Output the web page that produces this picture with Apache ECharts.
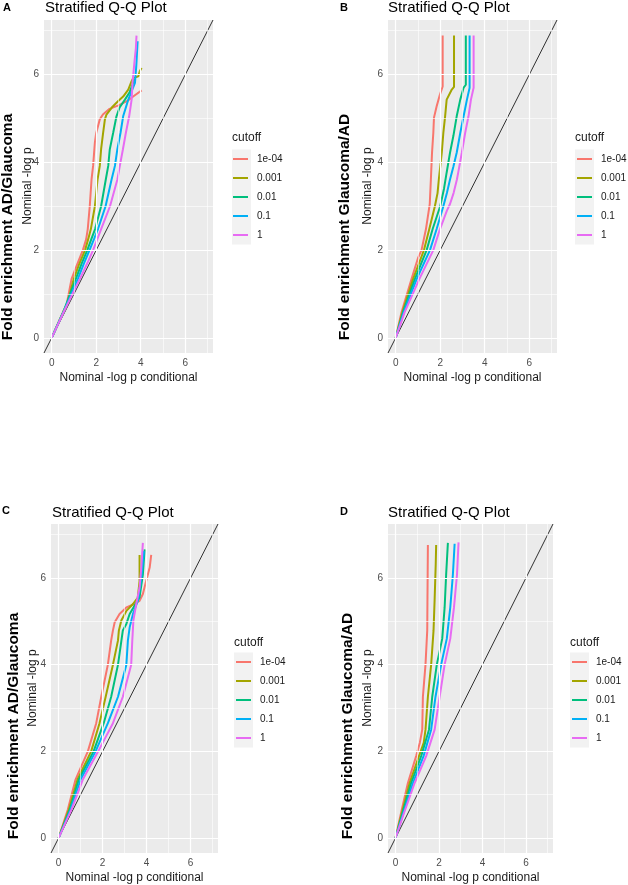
<!DOCTYPE html>
<html>
<head>
<meta charset="utf-8">
<script src="https://cdn.jsdelivr.net/npm/echarts@6/dist/echarts.min.js"></script>
<style>html,body{margin:0;padding:0;background:#fff}#c{width:628px;height:885px}</style>
</head>
<body>
<div id="c"></div>
<script>
// ---------- data ----------
const cutoffs = ['1e-04', '0.001', '0.01', '0.1', '1'];
const majorTicks = [0, 2, 4, 6];
const minorTicks = [1, 3, 5, 7];
const axisMin = -0.345, axisMax = 7.245;
const panelLetters = ['A', 'B', 'C', 'D'];
const plotTitles = ['Stratified Q-Q Plot', 'Stratified Q-Q Plot', 'Stratified Q-Q Plot', 'Stratified Q-Q Plot'];
const foldTitles = ['Fold enrichment AD/Glaucoma', 'Fold enrichment Glaucoma/AD', 'Fold enrichment AD/Glaucoma', 'Fold enrichment Glaucoma/AD'];
const yName = 'Nominal -log p';
const xName = 'Nominal -log p conditional';
const legendTitle = 'cutoff';

// each panel: one [x, y] list per cutoff (1e-04, 0.001, 0.01, 0.1, 1)
const panelA = [
  [[0,0],[0.5,0.55],[0.66,0.73],[0.89,1.34],[1.15,1.68],[1.40,2.0],[1.55,2.25],[1.62,2.48],[1.71,3.0],[1.79,3.61],[1.86,3.92],[1.94,4.45],[2.0,4.67],[2.16,4.98],[2.3,5.09],[2.6,5.22],[3.0,5.3],[3.4,5.4],[3.66,5.5],[4.04,5.64]],
  [[0,0],[0.52,0.6],[0.7,0.78],[0.99,1.34],[1.25,1.7],[1.50,2.0],[1.64,2.25],[1.76,2.48],[1.94,3.0],[2.06,3.61],[2.16,3.92],[2.22,4.3],[2.31,4.67],[2.39,4.98],[2.46,5.09],[2.7,5.25],[2.99,5.4],[3.21,5.5],[3.44,5.66],[3.59,5.85],[3.66,5.92],[3.89,5.96],[3.96,6.08],[4.04,6.15]],
  [[0,0],[0.53,0.6],[1.08,1.34],[1.35,1.7],[1.60,2.0],[1.78,2.25],[1.95,2.48],[2.22,3.0],[2.43,3.61],[2.54,3.92],[2.61,4.3],[2.76,4.67],[2.91,5.05],[3.05,5.25],[3.29,5.43],[3.5,5.6],[3.66,5.81],[3.72,5.9]],
  [[0,0],[0.54,0.6],[1.17,1.34],[1.45,1.7],[1.70,2.0],[1.90,2.25],[2.08,2.48],[2.42,3.0],[2.69,3.61],[2.84,3.92],[2.95,4.3],[3.09,4.67],[3.21,5.05],[3.44,5.43],[3.74,5.81],[3.8,6.2],[3.86,6.76]],
  [[0,0],[0.55,0.6],[1.26,1.34],[1.6,1.7],[1.86,2.0],[2.05,2.25],[2.22,2.48],[2.62,3.0],[2.95,3.61],[3.06,3.92],[3.2,4.3],[3.33,4.67],[3.48,5.05],[3.59,5.43],[3.63,5.81],[3.72,6.3],[3.78,6.6],[3.81,6.89]]
];
const panelB = [
  [[0,0],[0.26,0.58],[0.71,1.34],[1.01,1.83],[1.16,2.0],[1.36,2.48],[1.53,3.05],[1.58,3.6],[1.63,4.2],[1.69,4.67],[1.72,5.02],[1.84,5.28],[1.99,5.55],[2.11,5.73],[2.11,6.89]],
  [[0,0],[0.3,0.58],[0.78,1.34],[1.27,2.0],[1.51,2.48],[1.76,3.0],[1.88,3.3],[1.94,3.62],[2.07,4.22],[2.14,4.67],[2.22,5.05],[2.29,5.43],[2.52,5.66],[2.62,5.72],[2.62,6.89]],
  [[0,0],[0.33,0.58],[0.86,1.34],[1.39,2.0],[1.66,2.48],[2.0,3.0],[2.17,3.4],[2.29,3.77],[2.44,4.22],[2.59,4.6],[2.74,5.05],[2.9,5.43],[3.05,5.7],[3.15,5.77],[3.15,6.89]],
  [[0,0],[0.36,0.58],[0.94,1.34],[1.54,2.0],[1.84,2.48],[2.14,3.0],[2.3,3.3],[2.44,3.61],[2.59,3.9],[2.74,4.22],[2.9,4.67],[3.05,5.05],[3.2,5.43],[3.32,5.7],[3.32,6.89]],
  [[0,0],[0.4,0.58],[1.06,1.34],[1.69,2.0],[1.99,2.48],[2.3,2.9],[2.44,3.05],[2.6,3.3],[2.75,3.61],[2.82,3.8],[2.97,4.22],[3.12,4.67],[3.27,5.05],[3.38,5.43],[3.5,5.7],[3.5,6.89]]
];
const panelC = [
  [[0,0],[0.42,0.66],[0.77,1.35],[1.33,2.0],[1.71,2.65],[1.94,3.26],[2.24,4.0],[2.39,4.56],[2.47,4.79],[2.55,4.98],[2.77,5.17],[3.08,5.32],[3.45,5.4],[3.68,5.47],[3.83,5.63],[3.98,5.93],[4.14,6.24],[4.21,6.53]],
  [[0,0],[0.47,0.66],[0.86,1.35],[1.48,2.0],[1.86,2.65],[2.14,3.26],[2.47,4.0],[2.7,4.56],[2.74,4.79],[2.85,5.02],[3.08,5.24],[3.38,5.4],[3.6,5.55],[3.68,5.93],[3.68,6.53]],
  [[0,0],[0.51,0.66],[0.92,1.35],[1.59,2.0],[2.05,2.65],[2.39,3.26],[2.7,4.0],[2.92,4.79],[3.08,4.94],[3.23,5.17],[3.45,5.36],[3.68,5.55],[3.83,6.08],[3.91,6.66]],
  [[0,0],[0.55,0.66],[1.0,1.35],[1.68,2.0],[2.24,2.65],[2.7,3.26],[3.08,4.0],[3.15,4.56],[3.23,4.86],[3.38,5.17],[3.6,5.47],[3.76,6.0],[3.88,6.62]],
  [[0,0],[0.59,0.66],[1.1,1.35],[1.8,2.0],[2.47,2.65],[2.92,3.26],[3.3,4.0],[3.35,4.56],[3.4,5.02],[3.53,5.4],[3.68,5.78],[3.76,6.24],[3.83,6.81]]
];
const panelD = [
  [[0,0],[0.26,0.59],[0.57,1.27],[0.95,1.89],[1.12,2.2],[1.23,2.5],[1.26,3.26],[1.38,4.0],[1.46,4.79],[1.47,5.5],[1.49,6.76]],
  [[0,0],[0.3,0.59],[0.65,1.27],[1.08,1.89],[1.3,2.2],[1.38,2.5],[1.49,3.26],[1.64,4.0],[1.75,4.79],[1.8,5.5],[1.85,6.31],[1.87,6.76]],
  [[0,0],[0.33,0.59],[0.72,1.27],[1.18,1.89],[1.54,2.5],[1.69,3.26],[1.9,4.0],[2.15,4.6],[2.26,5.32],[2.33,6.08],[2.41,6.81]],
  [[0,0],[0.37,0.59],[0.8,1.27],[1.29,1.89],[1.64,2.5],[1.84,3.26],[2.1,4.0],[2.36,4.6],[2.52,5.32],[2.64,6.08],[2.72,6.79]],
  [[0,0],[0.4,0.59],[0.88,1.27],[1.41,1.89],[1.8,2.5],[2.03,3.26],[2.26,4.0],[2.52,4.6],[2.69,5.32],[2.83,6.08],[2.9,6.82]]
];

// ---------- styles / layout ----------
const colors = ['#F8766D', '#A3A500', '#00BF7D', '#00B0F6', '#E76BF3'];
const FONT = '"Liberation Sans", Arial, Helvetica, sans-serif';
const panels = [panelA, panelB, panelC, panelD];
const grids = [
  {left: 44, top: 20, width: 169, height: 333},
  {left: 388, top: 20, width: 169, height: 333},
  {left: 51, top: 524, width: 167, height: 329},
  {left: 388, top: 524, width: 165, height: 329}
];
const layoutText = [
  {letter: [7, 8], title: [45, 8], fold: [7.5, 227], nom: [28, 186], xt: [128.5, 378], legTitle: [232, 138], keyBg: [232, 149.5], leg: [233, 149.5]},
  {letter: [344, 8], title: [388, 8], fold: [345, 227], nom: [368, 186], xt: [472.5, 378], legTitle: [575, 138], keyBg: [575, 149.5], leg: [577, 149.5]},
  {letter: [6, 511], title: [52, 513], fold: [13.5, 726], nom: [33, 688], xt: [134.5, 878], legTitle: [234, 643], keyBg: [234, 652.5], leg: [236, 652.5]},
  {letter: [344, 512], title: [388, 513], fold: [347.5, 726], nom: [368, 688], xt: [470.5, 878], legTitle: [570, 643], keyBg: [570, 652.5], leg: [572, 652.5]}
];

const xAxes = [], yAxes = [], series = [], legends = [], graphics = [];
grids.forEach((g, i) => {
  const axisCommon = {
    type: 'value', gridIndex: i, min: axisMin, max: axisMax,
    axisLine: {show: false},
    axisTick: {show: true, customValues: majorTicks, length: 3, lineStyle: {color: '#333333', width: 1}},
    axisLabel: {show: true, customValues: majorTicks, color: '#4D4D4D', fontSize: 10, fontFamily: FONT, margin: 5},
    splitLine: {show: false}
  };
  xAxes.push(Object.assign({}, axisCommon));
  yAxes.push(Object.assign({}, axisCommon));
  // gridlines (white, ggplot style)
  const ml = [];
  majorTicks.forEach(v => { ml.push({xAxis: v, lineStyle: {width: 1.2}}); ml.push({yAxis: v, lineStyle: {width: 1.2}}); });
  minorTicks.forEach(v => { ml.push({xAxis: v, lineStyle: {width: 0.6}}); ml.push({yAxis: v, lineStyle: {width: 0.6}}); });
  series.push({
    type: 'line', name: 'grid' + i, xAxisIndex: i, yAxisIndex: i, data: [], z: 1, silent: true,
    markLine: {silent: true, symbol: ['none', 'none'], label: {show: false}, animation: false,
      lineStyle: {color: '#FFFFFF', type: 'solid'}, emphasis: {disabled: true}, data: ml}
  });
  // y = x reference line
  series.push({
    type: 'line', name: 'diag' + i, xAxisIndex: i, yAxisIndex: i, z: 2, silent: true,
    data: [[axisMin, axisMin], [axisMax, axisMax]], showSymbol: false,
    lineStyle: {color: '#000000', width: 0.8}
  });
  panels[i].forEach((d, k) => {
    series.push({
      type: 'line', name: cutoffs[k], xAxisIndex: i, yAxisIndex: i, z: 3,
      data: d, showSymbol: false, color: colors[k],
      lineStyle: {color: colors[k], width: 2}
    });
  });
  const L = layoutText[i];
  legends.push({
    data: cutoffs, orient: 'vertical', left: L.leg[0], top: L.leg[1], padding: 0, itemGap: 0,
    icon: 'rect', itemWidth: 15, itemHeight: 2, selectedMode: false,
    textStyle: {fontSize: 10, fontFamily: FONT, color: '#1A1A1A', lineHeight: 19, padding: [0, 0, 0, 4]}
  });
  graphics.push({type: 'rect', shape: {x: L.keyBg[0], y: L.keyBg[1], width: 19, height: 95}, style: {fill: '#F2F2F2'}, z: -1});
  graphics.push({type: 'text', x: L.letter[0], y: L.letter[1], style: {text: panelLetters[i], fontSize: 11, fontWeight: 'bold', fontFamily: FONT, fill: '#000', textAlign: 'center', textVerticalAlign: 'middle'}});
  graphics.push({type: 'text', x: L.title[0], y: L.title[1], style: {text: plotTitles[i], fontSize: 15, fontFamily: FONT, fill: '#000', textAlign: 'left', textVerticalAlign: 'middle'}});
  graphics.push({type: 'text', x: L.fold[0], y: L.fold[1], rotation: Math.PI / 2, style: {text: foldTitles[i], fontSize: 15.5, fontWeight: 'bold', fontFamily: FONT, fill: '#000', textAlign: 'center', textVerticalAlign: 'middle'}});
  graphics.push({type: 'text', x: L.nom[0], y: L.nom[1], rotation: Math.PI / 2, style: {text: yName, fontSize: 12, fontFamily: FONT, fill: '#1A1A1A', textAlign: 'center', textVerticalAlign: 'middle'}});
  graphics.push({type: 'text', x: L.xt[0], y: L.xt[1], style: {text: xName, fontSize: 12, fontFamily: FONT, fill: '#1A1A1A', textAlign: 'center', textVerticalAlign: 'middle'}});
  graphics.push({type: 'text', x: L.legTitle[0], y: L.legTitle[1], style: {text: legendTitle, fontSize: 12, fontFamily: FONT, fill: '#1A1A1A', textAlign: 'left', textVerticalAlign: 'middle'}});
});

const chart = echarts.init(document.getElementById('c'));
chart.setOption({
  animation: false,
  backgroundColor: '#FFFFFF',
  grid: grids.map(g => Object.assign({show: true, backgroundColor: '#EBEBEB', borderWidth: 0, containLabel: false}, g)),
  xAxis: xAxes,
  yAxis: yAxes,
  legend: legends,
  series: series,
  graphic: graphics
});
</script>
</body>
</html>
